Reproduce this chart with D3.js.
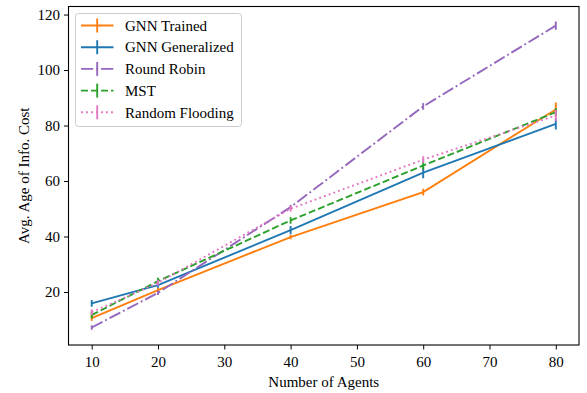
<!DOCTYPE html>
<html><head><meta charset="utf-8">
<script src="https://cdn.jsdelivr.net/npm/d3@7"></script>
<style>body{margin:0;background:#fff}svg{display:block}text{font-family:"Liberation Serif","Times New Roman",serif;fill:#000}</style>
</head><body><svg id="c" width="587" height="393"></svg>
<script>
const agents = [10, 20, 40, 60, 80];
const seriesNames = ["GNN Trained", "GNN Generalized", "Round Robin", "MST", "Random Flooding"];
const gnnTrained = [10.6, 20.7, 39.8, 56.0, 85.8];
const gnnTrainedErr = [1.0, 0.8, 0.8, 1.2, 2.5];
const gnnGeneralized = [15.9, 22.5, 42.3, 63.0, 80.6];
const gnnGeneralizedErr = [1.2, 1.0, 1.5, 2.0, 2.0];
const roundRobin = [7.2, 19.7, 50.6, 86.9, 116.0];
const roundRobinErr = [0.8, 0.8, 0.8, 1.2, 1.5];
const mst = [11.7, 23.9, 45.8, 65.6, 84.8];
const mstErr = [1.2, 1.2, 1.2, 1.5, 1.5];
const randomFlooding = [12.7, 23.3, 50.0, 67.7, 83.6];
const randomFloodingErr = [1.0, 1.0, 1.0, 1.2, 2.0];
const xTicks = [10, 20, 30, 40, 50, 60, 70, 80];
const yTicks = [20, 40, 60, 80, 100, 120];

const colors = ["#ff7f0e", "#1f77b4", "#9467bd", "#2ca02c", "#e377c2"];
const dashes = [null, null, "12.2,3,1.9,3", "7,3", "1.9,3.1"];
const values = [gnnTrained, gnnGeneralized, roundRobin, mst, randomFlooding];
const errs = [gnnTrainedErr, gnnGeneralizedErr, roundRobinErr, mstErr, randomFloodingErr];

const L = 68.5, R = 579, T = 6.5, B = 345;
const x = d3.scaleLinear().domain([6.5, 83.5]).range([L, R]);
const y = d3.scaleLinear().domain([0.9, 122.9]).range([B, T]);
const svg = d3.select("#c");
const FS = 15;
const lw = 1.9;

values.forEach((vals, i) => {
  const g = svg.append("g");
  const line = d3.line().x((d, j) => x(agents[j])).y(d => y(d));
  g.append("path").attr("d", line(vals)).attr("fill", "none")
    .attr("stroke", colors[i]).attr("stroke-width", lw)
    .attr("stroke-dasharray", dashes[i]);
  vals.forEach((v, j) => {
    g.append("line").attr("x1", x(agents[j])).attr("x2", x(agents[j]))
      .attr("y1", y(v - errs[i][j])).attr("y2", y(v + errs[i][j]))
      .attr("stroke", colors[i]).attr("stroke-width", lw);
  });
});

const xa = d3.axisBottom(x).tickValues(xTicks).tickSize(4.5).tickPadding(4);
const ya = d3.axisLeft(y).tickValues(yTicks).tickSize(4.5).tickPadding(4);
const gx = svg.append("g").attr("transform", `translate(0,${B})`).call(xa);
const gy = svg.append("g").attr("transform", `translate(${L},0)`).call(ya);
[gx, gy].forEach(g => {
  g.select(".domain").remove();
  g.selectAll("line").attr("stroke", "#000").attr("stroke-width", 1);
  g.selectAll("text").attr("font-size", FS).attr("font-family", "Liberation Serif");
});
gx.selectAll("text").attr("dy", "0.9em");
svg.append("rect").attr("x", L).attr("y", T).attr("width", R - L).attr("height", B - T)
  .attr("fill", "none").attr("stroke", "#000").attr("stroke-width", 1.1);

svg.append("text").attr("x", (L + R) / 2).attr("y", 387).attr("text-anchor", "middle")
  .attr("font-size", FS).text("Number of Agents");
svg.append("text").attr("transform", `translate(24,${(T + B) / 2}) rotate(-90)`)
  .attr("text-anchor", "middle").attr("dy", "0.35em").attr("font-size", FS).text("Avg. Age of Info. Cost");

const lg = svg.append("g");
lg.append("rect").attr("x", 75.5).attr("y", 13.5).attr("width", 166).attr("height", 113)
  .attr("rx", 3).attr("fill", "#fff").attr("fill-opacity", 0.8)
  .attr("stroke", "#cccccc").attr("stroke-width", 1);
seriesNames.forEach((n, i) => {
  const cy = 25.5 + i * 21.7;
  lg.append("line").attr("x1", 81).attr("x2", 113.5).attr("y1", cy).attr("y2", cy)
    .attr("stroke", colors[i]).attr("stroke-width", lw).attr("stroke-dasharray", dashes[i]);
  lg.append("line").attr("x1", 97.2).attr("x2", 97.2).attr("y1", cy - 7).attr("y2", cy + 7)
    .attr("stroke", colors[i]).attr("stroke-width", lw);
  lg.append("text").attr("x", 125).attr("y", cy).attr("dy", "0.35em")
    .attr("font-size", FS).text(n);
});
</script></body></html>
